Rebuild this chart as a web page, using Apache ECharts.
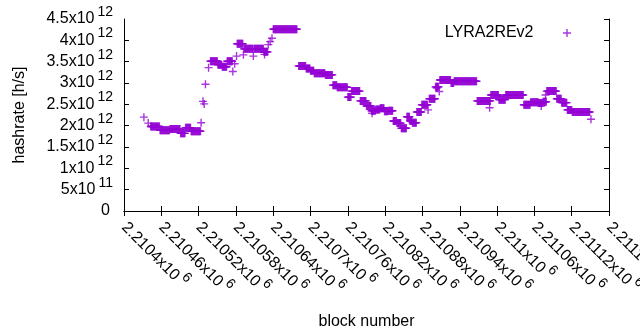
<!DOCTYPE html>
<html>
<head>
<meta charset="utf-8">
<script src="https://cdn.jsdelivr.net/npm/echarts@6/dist/echarts.min.js"></script>
<style>
  html, body { margin: 0; padding: 0; background: #fff; }
  #main { width: 640px; height: 330px; }
</style>
</head>
<body>
<div id="main"></div>
<script>
// runs of blocks sharing the same hashrate (in 10^12 h/s)
const runFrom = [2210443, 2210458, 2210474, 2210491, 2210499, 2210508,
  2210539, 2210551, 2210558, 2210566, 2210582, 2210593, 2210609, 2210625, 2210640,
  2210681, 2210693, 2210700, 2210706, 2210724, 2210736, 2210743, 2210760, 2210766,
  2210780, 2210790, 2210798, 2210805, 2210812, 2210819, 2210825, 2210833, 2210839,
  2210846, 2210855, 2210860, 2210864, 2210871, 2210879, 2210891, 2210901, 2210908,
  2210926, 2210931, 2210968, 2210990, 2211003, 2211014, 2211043, 2211054, 2211067,
  2211074, 2211080, 2211096, 2211104, 2211113, 2211121];
const runTo = [2210457, 2210473, 2210490, 2210498, 2210507, 2210523,
  2210550, 2210557, 2210565, 2210574, 2210591, 2210607, 2210624, 2210631, 2210678,
  2210692, 2210699, 2210705, 2210723, 2210735, 2210742, 2210759, 2210765, 2210779,
  2210789, 2210797, 2210804, 2210811, 2210818, 2210824, 2210832, 2210838, 2210845,
  2210854, 2210859, 2210863, 2210870, 2210878, 2210888, 2210900, 2210906, 2210925,
  2210930, 2210967, 2210989, 2211002, 2211013, 2211042, 2211053, 2211066, 2211073,
  2211079, 2211095, 2211103, 2211112, 2211120, 2211149];
const runLevel = [1.98, 1.89, 1.92, 1.82, 1.95, 1.87,
  3.51, 3.43, 3.38, 3.51, 3.92, 3.80, 3.80, 3.73, 4.26,
  3.40, 3.34, 3.29, 3.23, 3.19, 2.95, 2.90, 2.67, 2.81,
  2.58, 2.46, 2.35, 2.38, 2.41, 2.34, 2.35, 2.11, 2.06,
  1.94, 2.21, 2.11, 2.07, 2.32, 2.49, 2.63, 2.91, 3.07,
  3.00, 3.04, 2.58, 2.72, 2.61, 2.72, 2.49, 2.55, 2.53,
  2.56, 2.81, 2.63, 2.54, 2.37, 2.32];

// single blocks off the runs
const dotBlock = [2210432, 2210439, 2210524, 2210527, 2210529, 2210531, 2210536,
  2210575, 2210578, 2210581, 2210592, 2210608, 2210626, 2210632, 2210635, 2210638,
  2210799, 2210889, 2210903, 2210907, 2210988, 2211071, 2211078, 2211151];
const dotLevel = [2.20, 2.06, 2.07, 2.57, 2.51, 2.97, 3.36,
  3.27, 3.45, 3.63, 3.66, 3.63, 3.67, 3.90, 3.97, 4.05,
  2.29, 2.37, 2.88, 2.80, 2.42, 2.46, 2.72, 2.15];

const xTickMin = 2210400, xTickMax = 2211180, xTickStep = 60;
const yTickMax = 4.5e12, yTickStep = 0.5e12;

const FONT = "'Liberation Sans', Arial, sans-serif";
const PURPLE = '#9400d3';
const PLUS = 'path://M0,3.3H8V4.7H0ZM3.3,0H4.7V8H3.3Z';

const points = [];
runFrom.forEach((from, i) => {
  for (let b = from; b <= runTo[i]; b++) points.push([b, runLevel[i] * 1e12]);
});
dotBlock.forEach((b, i) => points.push([b, dotLevel[i] * 1e12]));

// exponent token sits at the top of a taller line, so it is raised ~5px
const supRich = {
  m: { fontSize: 16, fontFamily: FONT, color: '#000', lineHeight: 28 },
  e: { fontSize: 14, fontFamily: FONT, color: '#000', lineHeight: 18, verticalAlign: 'top', padding: [0, 0, 0, 3] },
  z: { fontSize: 16, fontFamily: FONT, color: '#000', lineHeight: 14, padding: [0, 3, 0, 0] }
};

function fmtX(v) {
  const m = +(v / 1e6).toFixed(5);
  return '{m|' + m + 'x10}{e|6}';
}
function fmtY(v) {
  if (v === 0) return '{z|0}';
  const parts = v.toExponential().split('e');
  return '{m|' + parts[0] + 'x10}{e|' + (+parts[1]) + '}';
}

const axisLine = { show: true, lineStyle: { color: '#000', width: 1 } };
const axisTick = { show: true, inside: true, length: 5, lineStyle: { color: '#000', width: 1 } };

const option = {
  animation: false,
  backgroundColor: '#fff',
  grid: { left: 124, right: 31, top: 19, bottom: 119, containLabel: false, outerBoundsMode: 'none' },
  legend: {
    right: 64,
    top: 20,
    align: 'right',
    itemWidth: 57,
    itemHeight: 8,
    symbolKeepAspect: true,
    textStyle: { fontSize: 16, fontFamily: FONT, color: '#000' },
    data: [{ name: 'LYRA2REv2', icon: PLUS }]
  },
  xAxis: [{
    type: 'value',
    min: xTickMin, max: xTickMax, interval: xTickStep,
    name: 'block number',
    nameLocation: 'middle',
    nameGap: 103,
    nameTextStyle: { fontSize: 16, fontFamily: FONT, color: '#000' },
    axisLine: axisLine,
    axisTick: axisTick,
    splitLine: { show: false },
    axisLabel: { rotate: -45, margin: 14, formatter: fmtX, rich: supRich, hideOverlap: false, showMinLabel: true, showMaxLabel: true }
  }, {
    type: 'value', position: 'top',
    min: xTickMin, max: xTickMax, interval: xTickStep,
    axisLine: axisLine, axisTick: axisTick,
    splitLine: { show: false }, axisLabel: { show: false }
  }],
  yAxis: [{
    type: 'value',
    min: 0, max: yTickMax, interval: yTickStep,
    name: 'hashrate [h/s]',
    nameLocation: 'middle',
    nameGap: 96,
    nameTextStyle: { fontSize: 16, fontFamily: FONT, color: '#000' },
    axisLine: axisLine,
    axisTick: axisTick,
    splitLine: { show: false },
    axisLabel: { margin: 11, formatter: fmtY, rich: supRich, hideOverlap: false, showMinLabel: true, showMaxLabel: false }
  }, {
    type: 'value', position: 'right',
    min: 0, max: yTickMax, interval: yTickStep,
    axisLine: axisLine, axisTick: axisTick,
    splitLine: { show: false }, axisLabel: { show: false }
  }, {
    // top label only, kept on its own axis so it does not knock out its neighbour
    type: 'value', position: 'left',
    min: 0, max: yTickMax, interval: yTickStep,
    axisLine: { show: false }, axisTick: { show: false },
    splitLine: { show: false },
    axisLabel: { margin: 11, formatter: fmtY, rich: supRich, customValues: [yTickMax] }
  }],
  series: [{
    name: 'LYRA2REv2',
    type: 'scatter',
    symbol: PLUS,
    symbolSize: 8,
    itemStyle: { color: PURPLE },
    data: points
  }]
};

const chart = echarts.init(document.getElementById('main'), null, { renderer: 'canvas' });
chart.setOption(option);
</script>
</body>
</html>
